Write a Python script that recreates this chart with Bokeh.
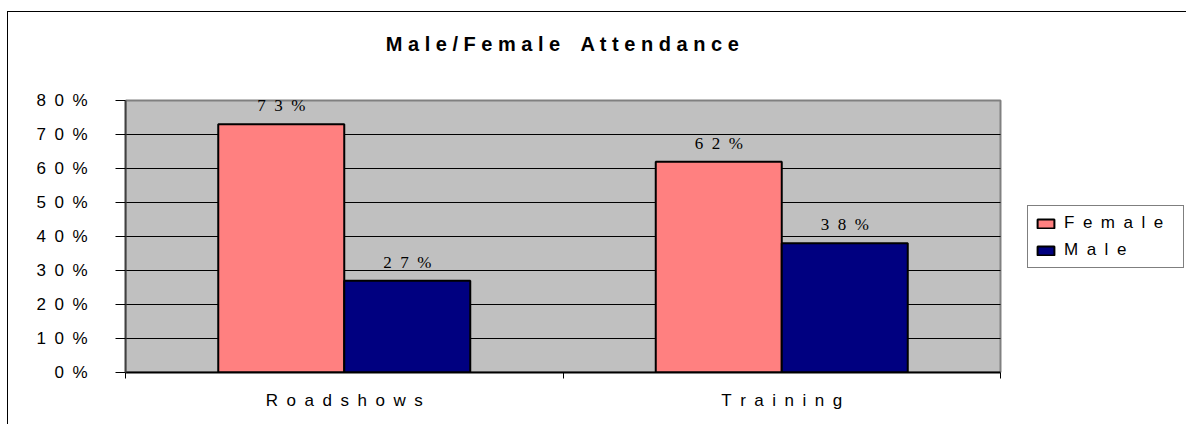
from bokeh.plotting import figure
from bokeh.models import (ColumnDataSource, Range1d, FixedTicker, Legend, LegendItem,
                          LabelSet, Label, BoxAnnotation)
from bokeh.transform import dodge
from bokeh.embed import file_html
from bokeh.resources import INLINE

# ---- data ----
categories = ["Roadshows", "Training"]
female = [73, 62]
male = [27, 38]
female_labels = ["73%", "62%"]
male_labels = ["27%", "38%"]
series_names = ["Female", "Male"]
y_ticks = [0, 10, 20, 30, 40, 50, 60, 70, 80]
y_tick_labels = ["0%", "10%", "20%", "30%", "40%", "50%", "60%", "70%", "80%"]
title_text = "Male/Female Attendance"

# ---- styling / geometry ----
FONT = "Liberation Sans"
BAR_W = 0.288
OFF = 0.144
EN = "\u2002"
FIG_W, FIG_H = 1179, 413
BORDER_L, BORDER_B = 117, 53
PLOT_W, PLOT_H = 875, 272          # size of the grey plotting area in pixels
N = len(categories)
Y_MAX = y_ticks[-1]
FRAME_W = FIG_W - BORDER_L
FRAME_H = FIG_H - BORDER_B


def spaced(s, sep=EN):
    return sep.join(ch if ch != " " else EN for ch in s)


centers = [i + 0.5 for i in range(N)]
src = ColumnDataSource(dict(
    x=centers, female=female, male=male,
    flab=[spaced(t) for t in female_labels],
    mlab=[spaced(t) for t in male_labels],
))

p = figure(x_range=Range1d(0, N * FRAME_W / PLOT_W),
           y_range=Range1d(0, Y_MAX * FRAME_H / PLOT_H),
           width=FIG_W, height=FIG_H,
           min_border_left=BORDER_L, min_border_top=0, min_border_bottom=BORDER_B,
           min_border_right=0,
           output_backend="svg", toolbar_location=None,
           background_fill_color="white", border_fill_color="white")

p.margin = (11, 0, 0, 7)
p.styles = {"border-left": "1px solid black", "border-top": "1px solid black"}
p.outline_line_color = None

# grey plotting area
p.add_layout(BoxAnnotation(left=0, right=N, bottom=0, top=Y_MAX,
                           fill_color="#C0C0C0", fill_alpha=1.0,
                           line_color="#808080", line_alpha=1.0, line_width=2,
                           level="image"))

# grid
p.xgrid.visible = False
grid_ok = True
try:
    p.ygrid.cross_bounds = (0, N)
except Exception:
    grid_ok = False
if grid_ok:
    p.ygrid.ticker = FixedTicker(ticks=y_ticks[1:-1])
    p.ygrid.grid_line_color = "black"
    p.ygrid.grid_line_width = 1
else:
    p.ygrid.visible = False
    gl = y_ticks[1:-1]
    p.segment(x0=[0] * len(gl), x1=[N] * len(gl), y0=gl, y1=gl,
              line_color="black", line_width=1, level="underlay")

# bars
rf = p.vbar(x=dodge("x", -OFF), top="female", width=BAR_W, source=src,
            fill_color="#FF8080", line_color="black", line_width=2)
rm = p.vbar(x=dodge("x", OFF), top="male", width=BAR_W, source=src,
            fill_color="#000080", line_color="black", line_width=2)

for col, lab, off in (("female", "flab", -OFF), ("male", "mlab", OFF)):
    p.add_layout(LabelSet(x=dodge("x", off), y=col, text=lab, source=src,
                          text_align="center", text_baseline="bottom", y_offset=9,
                          text_font=FONT, text_font_size="17px", text_color="black"))

# title
p.add_layout(Label(x=N / 2, y=Y_MAX, y_offset=57, text=spaced(title_text, " "),
                   text_align="center", text_baseline="middle",
                   text_font=FONT, text_font_size="20px", text_font_style="bold",
                   text_color="black"))

# x axis
xa = p.xaxis[0]
xa.bounds = (0, N)
xa.ticker = FixedTicker(ticks=centers, minor_ticks=list(range(N + 1)))
xa.major_label_overrides = {c: spaced(cat) for c, cat in zip(centers, categories)}
xa.major_tick_line_color = None
xa.minor_tick_line_color = "black"
xa.minor_tick_in = 0
xa.minor_tick_out = 6
xa.axis_line_color = "black"
xa.axis_line_width = 2
xa.major_label_text_font = FONT
xa.major_label_text_font_size = "17px"
xa.major_label_text_color = "black"
xa.major_label_standoff = 12

# y axis
ya = p.yaxis[0]
ya.bounds = (0, Y_MAX)
ya.ticker = FixedTicker(ticks=y_ticks)
ya.major_label_overrides = {t: spaced(l) for t, l in zip(y_ticks, y_tick_labels)}
ya.major_tick_in = 0
ya.major_tick_out = 10
ya.major_tick_line_color = "black"
ya.minor_tick_line_color = None
ya.axis_line_color = "#404040"
ya.axis_line_width = 2
ya.major_label_text_font = FONT
ya.major_label_text_font_size = "17px"
ya.major_label_text_color = "black"
ya.major_label_standoff = 28

# legend (screen pixels from the frame's bottom-left corner)
legend = Legend(items=[LegendItem(label=spaced(series_names[0]), renderers=[rf]),
                       LegendItem(label=spaced(series_names[1]), renderers=[rm])],
                location=(902, 104), margin=0,
                border_line_color="black", border_line_width=1,
                glyph_width=21, glyph_height=11, label_standoff=8,
                padding=7, spacing=7, label_height=18, label_width=112,
                label_text_font=FONT, label_text_font_size="17px",
                label_text_color="black", background_fill_color="white")
p.add_layout(legend)

open("out.html", "w").write(file_html(p, INLINE))
